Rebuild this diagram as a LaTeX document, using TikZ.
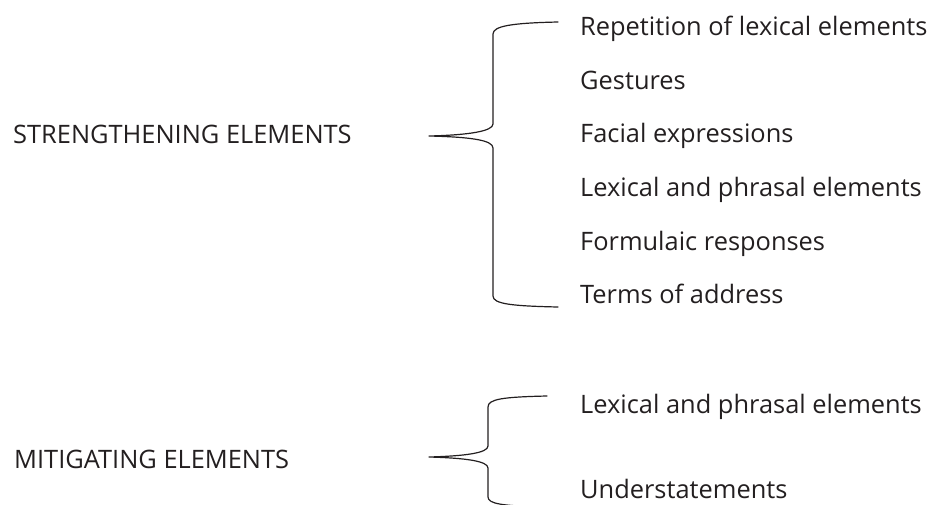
\documentclass[tikz,border=0pt]{standalone}
\usepackage{fontspec}
\setmainfont[Ligatures=NoCommon]{Open Sans}
\definecolor{ink}{HTML}{231F20}
\begin{document}
\begin{tikzpicture}[x=1pt,y=-1pt,
  item/.style={anchor=base west,inner sep=0pt,text=ink,font=\fontsize{25.4}{30}\selectfont},
  brace/.style={draw=ink,line width=1.2pt,line cap=round,line join=round}]
\useasboundingbox (0,0) rectangle (935,504);
% labels
\node[item] (strong) at (13,143) {STRENGTHENING ELEMENTS};
\node[item] (mitig) at (14,468) {MITIGATING ELEMENTS};
% group 1 items
\node[item] (s1) at (580,35) {Repetition of lexical elements};
\node[item] (s2) at (580,89) {Gestures};
\node[item] (s3) at (580,142) {Facial expressions};
\node[item] (s4) at (580,196) {Lexical and phrasal elements};
\node[item] (s5) at (580,250) {Formulaic responses};
\node[item] (s6) at (580,303) {Terms of address};
% group 2 items
\node[item] (m1) at (580,413) {Lexical and phrasal elements};
\node[item] (m2) at (580,498) {Understatements};
% brace 1
\coordinate (b1tip) at (429,136);
\draw[brace] (558,22) .. controls (512,23) and (493,26) .. (493,34)
  -- (493,124) .. controls (493,131) and (470,135) .. (b1tip)
  .. controls (470,137) and (493,140) .. (493,148)
  -- (493,296) .. controls (493,304) and (512,306) .. (558,307);
% brace 2
\coordinate (b2tip) at (429,457);
\draw[brace] (547,396) .. controls (503,397) and (488,399) .. (488,407)
  -- (488,446) .. controls (488,453) and (465,456) .. (b2tip)
  .. controls (465,458) and (488,461) .. (488,468)
  -- (488,497) .. controls (488,504) and (503,506) .. (547,507);
\end{tikzpicture}
\end{document}
